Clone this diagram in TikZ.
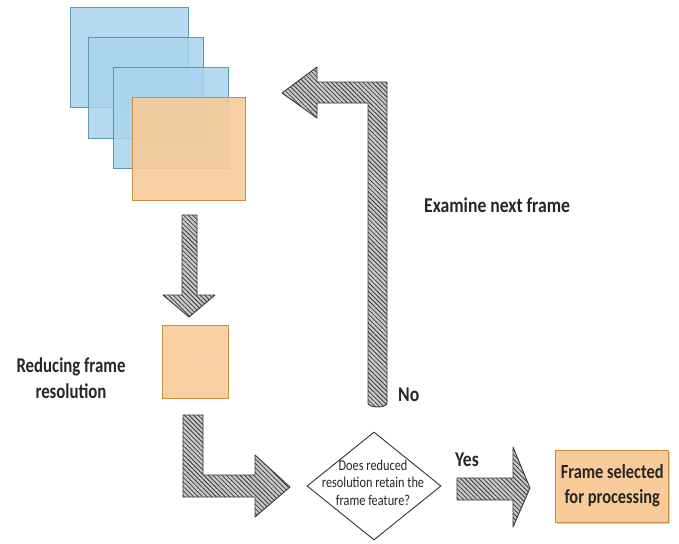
\documentclass[tikz,border=0pt]{standalone}
\usepackage{fontspec}
\usepackage{graphicx}
\setmainfont{Carlito}
\usetikzlibrary{patterns.meta,shapes.geometric,shadows}
\definecolor{frameblue}{HTML}{A8D4EC}
\definecolor{frameblueedge}{HTML}{4F8FAE}
\definecolor{frameorange}{HTML}{F8CB98}
\definecolor{frameorangeedge}{HTML}{C98E40}
\definecolor{hatchbg}{HTML}{C9C9C9}
\definecolor{hatchline}{HTML}{3A3A3A}
% narrow, tall lettering: a text block squeezed horizontally
\newcommand\narrowtext[2]{\scalebox{#1}[1]{\begin{tabular}{@{}c@{}}#2\end{tabular}}}
\tikzset{
  bluesheet/.style={draw=frameblueedge, line width=1.1pt, fill=frameblue, fill opacity=0.85, draw opacity=0.9},
  orangesheet/.style={draw=frameorangeedge, line width=1.1pt, fill=frameorange, fill opacity=0.9},
  blockarrow/.style={draw=hatchline, line width=0.9pt, line join=round,
    preaction={fill=hatchbg},
    pattern={Lines[angle=-45,distance=3.2pt,line width=0.8pt]}, pattern color=hatchline},
  label/.style={font=\bfseries\fontsize{21}{26}\selectfont, text=black!85, inner sep=0pt},
  smalltext/.style={font=\fontsize{15}{17.5}\selectfont, text=black!85, inner sep=0pt},
}
\begin{document}
\begin{tikzpicture}[x=1pt,y=-1pt]
\useasboundingbox (0,0) rectangle (679,543);

% stack of frames
\node[bluesheet, minimum width=118pt, minimum height=100pt, anchor=north west] (f1) at (70,7) {};
\node[bluesheet, minimum width=115pt, minimum height=101pt, anchor=north west] (f2) at (88,37) {};
\node[bluesheet, minimum width=115pt, minimum height=101pt, anchor=north west] (f3) at (113,67) {};
\node[orangesheet, minimum width=113pt, minimum height=103pt, anchor=north west] (f4) at (132,97) {};

% reduced-resolution frame
\node[orangesheet, minimum width=66pt, minimum height=73pt, anchor=north west] (small) at (162,325) {};

% decision
\node[draw=black!80, line width=0.9pt, fill=white, diamond, minimum width=134pt, minimum height=108pt, inner sep=0pt] (dec) at (374,486) {};
\node[smalltext] (dectext) at (373,484) {\narrowtext{0.82}{Does reduced\\resolution retain the\\frame feature?}};

% selected frame
\node[orangesheet, fill opacity=1, line width=1.4pt, minimum width=113pt, minimum height=72pt, anchor=north west,
      drop shadow={opacity=0.35, shadow xshift=1.5pt, shadow yshift=-1.5pt}] (sel) at (555,450) {};
\node[label, font=\bfseries\fontsize{20}{25}\selectfont] (seltext) at ([yshift=1pt]sel.center) {\narrowtext{0.82}{Frame selected\\for processing}};

% down arrow from frames to reduced frame
\draw[blockarrow] (182,215) -- (197,215) -- (197,295) -- (215,295) -- (189,317) -- (163,295) -- (182,295) -- cycle;

% L-shaped arrow to decision
\draw[blockarrow] (183,415) -- (203,415) -- (203,475) -- (255,475) -- (255,455) -- (290,487)
  -- (255,517) -- (255,497) -- (183,497) -- cycle;

% return arrow (No branch)
\draw[blockarrow] (368,403) -- (368,103) -- (317,103) -- (317,118) -- (282,93) -- (317,67)
  -- (317,82) -- (387,82) -- (387,403) arc[start angle=0,end angle=180,x radius=9.5pt,y radius=-4pt] -- cycle;

% Yes arrow
\draw[blockarrow] (457,478) -- (513,478) -- (513,447) -- (530,488) -- (513,527) -- (513,500) -- (457,500) -- cycle;

% labels
\node[label, anchor=west] (examine) at (424,207) {\narrowtext{0.84}{Examine next frame}};
\node[label, anchor=west] (no) at (398,396) {\narrowtext{0.84}{No}};
\node[label, anchor=west] (yes) at (455,461) {\narrowtext{0.84}{Yes}};
\node[label] (reduce) at (71,380) {\narrowtext{0.80}{Reducing frame\\resolution}};
\end{tikzpicture}
\end{document}
